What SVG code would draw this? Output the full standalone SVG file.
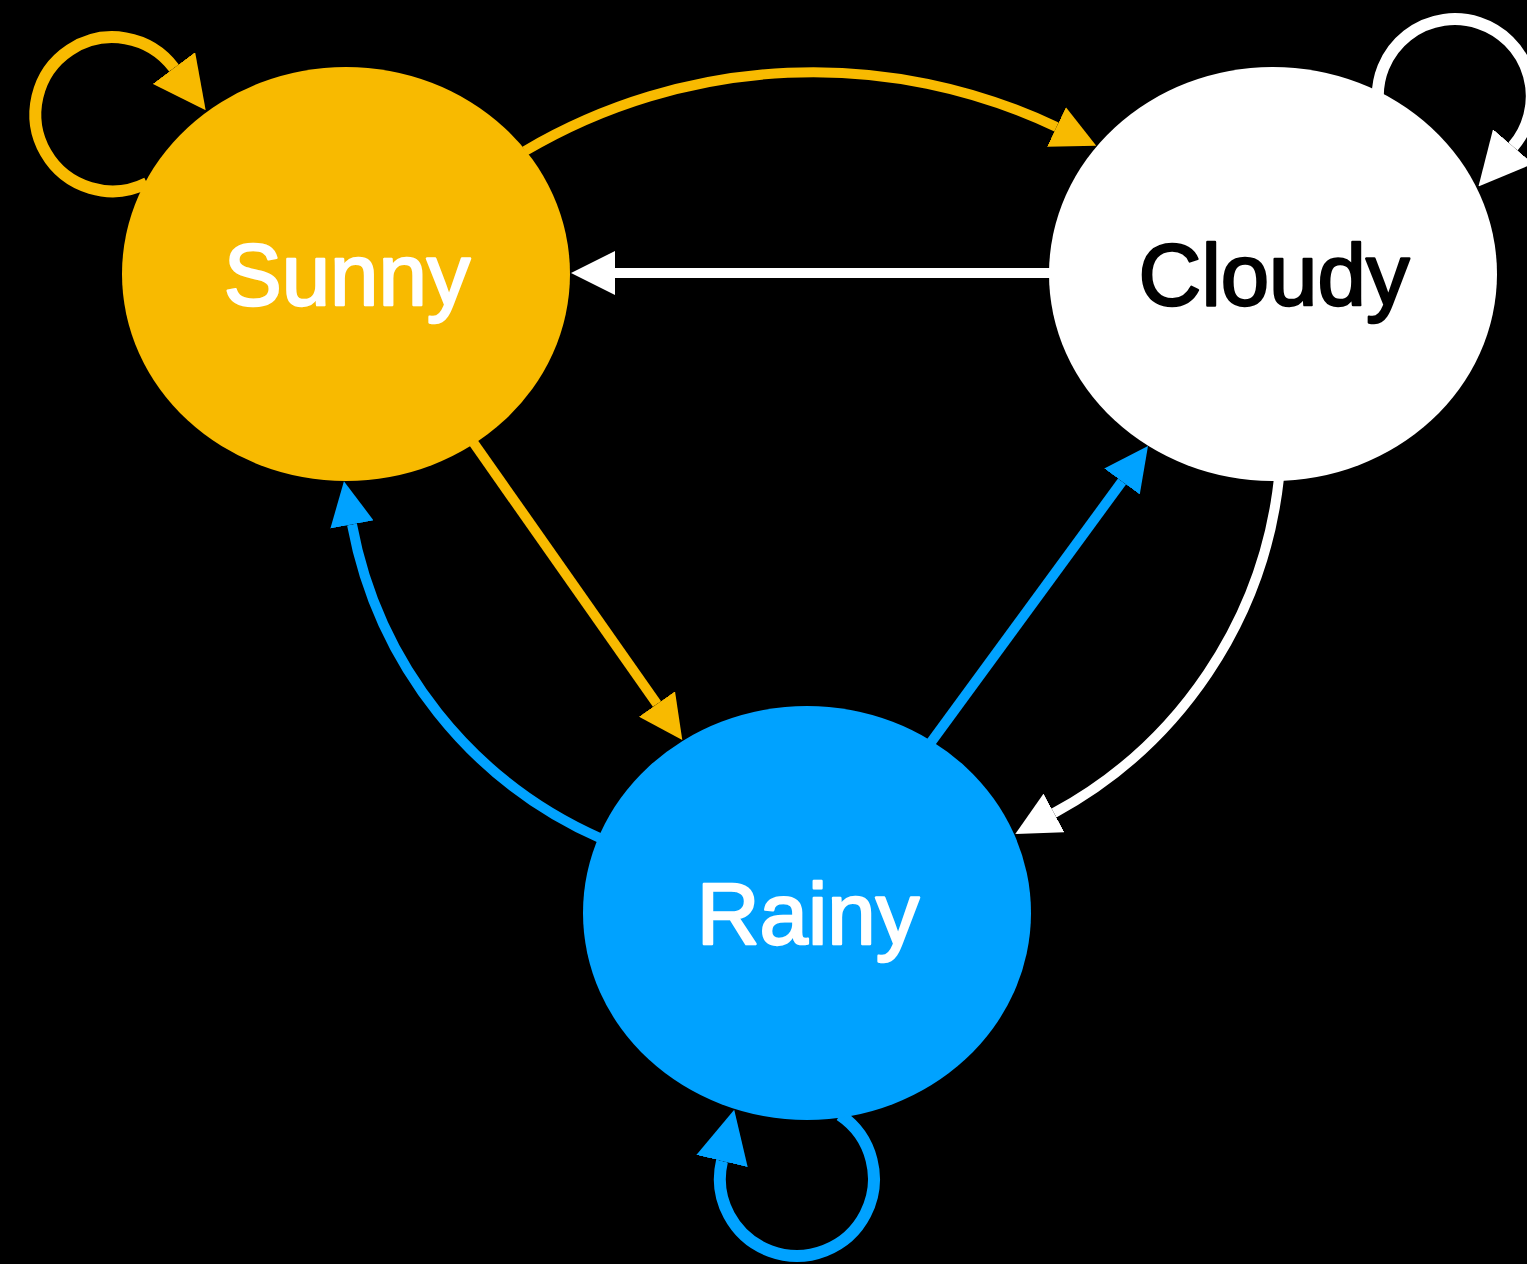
<svg xmlns="http://www.w3.org/2000/svg" width="1527" height="1264" viewBox="0 0 1527 1264">
  <style>
    .edge { fill: none; stroke-linecap: butt; }
    .line { stroke-width: 10; }
    .loop { stroke-width: 12; }
    .yellow { stroke: #F8BA00; }
    .white { stroke: #FFFFFF; }
    .blue { stroke: #00A2FF; }
    .label { font-family: "Liberation Sans", Arial, Helvetica, sans-serif; font-size: 87px; text-anchor: middle; stroke-width: 2.4; stroke-linejoin: round; }
  </style>
  <defs>
    <marker id="arrow-yellow" viewBox="0 0 44 44" markerWidth="4.4" markerHeight="4.4" refX="0" refY="22" orient="auto" markerUnits="strokeWidth">
      <path d="M0,0 L44,22 L0,44 Z" fill="#F8BA00"/>
    </marker>
    <marker id="arrow-white" viewBox="0 0 44 44" markerWidth="4.4" markerHeight="4.4" refX="0" refY="22" orient="auto" markerUnits="strokeWidth">
      <path d="M0,0 L44,22 L0,44 Z" fill="#FFFFFF"/>
    </marker>
    <marker id="arrow-blue" viewBox="0 0 44 44" markerWidth="4.4" markerHeight="4.4" refX="0" refY="22" orient="auto" markerUnits="strokeWidth">
      <path d="M0,0 L44,22 L0,44 Z" fill="#00A2FF"/>
    </marker>
  </defs>

  <rect width="1527" height="1264" fill="#000000"/>

  <g id="connectors">
    <!-- self loops -->
    <path id="sunny-sunny" class="edge loop yellow" d="M 147 183 A 77 77 0 1 1 174 68" marker-end="url(#arrow-yellow)"/>
    <path id="cloudy-cloudy" class="edge loop white" d="M 1378 102 A 77 77 0 1 1 1513 146.5" marker-end="url(#arrow-white)"/>
    <path id="rainy-rainy" class="edge loop blue" d="M 840 1115 A 77 77 0 1 1 722 1161" marker-end="url(#arrow-blue)"/>
    <!-- curved transitions -->
    <path id="sunny-cloudy" class="edge line yellow" d="M 525 151 A 567 567 0 0 1 1056.5 127" marker-end="url(#arrow-yellow)"/>
    <path id="cloudy-rainy" class="edge line white" d="M 1279 478 A 434 434 0 0 1 1054 813" marker-end="url(#arrow-white)"/>
    <path id="rainy-sunny" class="edge line blue" d="M 602 839 A 429 429 0 0 1 352 524.5" marker-end="url(#arrow-blue)"/>
    <!-- straight transitions -->
    <path id="cloudy-sunny" class="edge line white" d="M 1052 273 L 615 273" marker-end="url(#arrow-white)"/>
    <path id="sunny-rainy" class="edge line yellow" d="M 473 442 L 657 704" marker-end="url(#arrow-yellow)"/>
    <path id="rainy-cloudy" class="edge line blue" d="M 929 745 L 1122 481.5" marker-end="url(#arrow-blue)"/>
  </g>

  <g id="sunny">
    <ellipse cx="346" cy="274" rx="224" ry="207" fill="#F8BA00"/>
    <text class="label" x="347" y="305" fill="#FFFFFF" stroke="#FFFFFF">Sunny</text>
  </g>
  <g id="cloudy">
    <ellipse cx="1273" cy="274" rx="224" ry="207" fill="#FFFFFF"/>
    <text class="label" x="1274" y="305" fill="#000000" stroke="#000000">Cloudy</text>
  </g>
  <g id="rainy">
    <ellipse cx="807" cy="913" rx="224" ry="207" fill="#00A2FF"/>
    <text class="label" x="808" y="944" fill="#FFFFFF" stroke="#FFFFFF">Rainy</text>
  </g>
</svg>
